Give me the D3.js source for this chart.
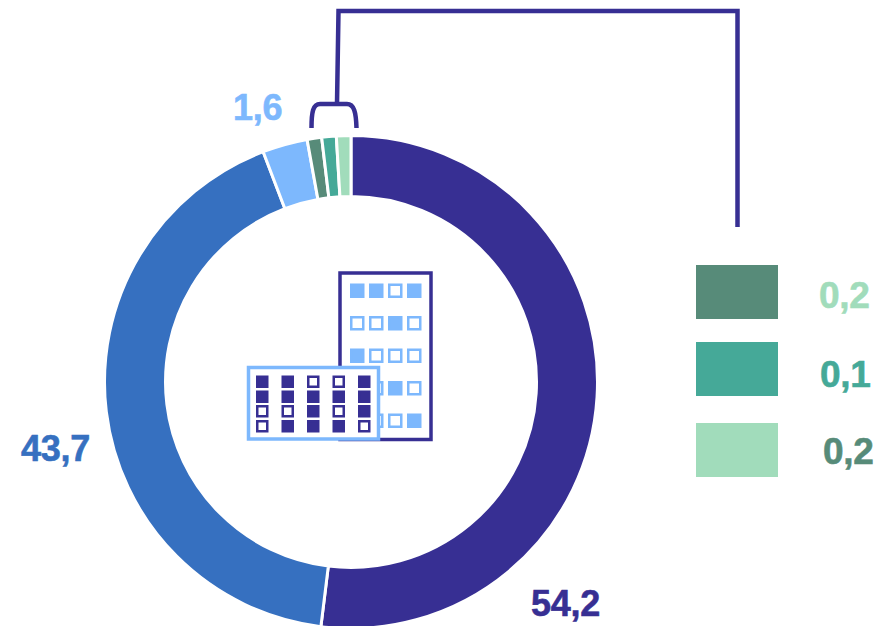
<!DOCTYPE html>
<html lang="en">
<head>
    <meta charset="UTF-8">
    <title>Donut chart</title>
    <script src="https://d3js.org/d3.v7.min.js"></script>
    <style>
        html, body { margin: 0; padding: 0; background: #fff; overflow: hidden; }
        text { font-family: "Liberation Sans", Arial, sans-serif; font-weight: 700; stroke-width: 0.6; }
    </style>
</head>
<body>
    <div id="chart"></div>
    <script>
        // data
        var categories = ["a", "b", "c", "d", "e", "f"];
        var valueLabels = ["54,2", "43,7", "1,6", "0,2", "0,1", "0,2"];
        // share of the ring as it is drawn in the picture (the arcs are not to scale with the labels)
        var ringShares = [51.95, 42.25, 2.95, 0.95, 0.95, 0.95];
        var sliceColors = ["#372f93", "#3670c0", "#7db8fd", "#578b79", "#45a998", "#a1dcbb"];

        var legendValues = ["0,2", "0,1", "0,2"];
        var legendSwatches = ["#578b79", "#45a998", "#a1dcbb"];
        var legendTextColors = ["#a1dcbb", "#45a998", "#578b79"];

        // icon windows, 1 = filled
        var towerWindows = [
            [1, 1, 0, 1],
            [0, 0, 1, 0],
            [1, 0, 0, 0],
            [0, 0, 1, 0],
            [0, 0, 0, 1]
        ];
        var lowWindows = [
            [1, 1, 0, 0, 1],
            [1, 1, 1, 1, 1],
            [0, 0, 1, 0, 1],
            [0, 1, 1, 1, 0]
        ];

        var width = 880, height = 626;
        var cx = 351, cy = 382, outer = 246.5, inner = 185.5;
        var dark = "#372f93", light = "#7db8fd";

        var svg = d3.select("#chart").append("svg")
            .attr("width", width)
            .attr("height", height)
            .style("display", "block");

        // ring
        var pie = d3.pie().sort(null).value(d => d.share);
        var arc = d3.arc().innerRadius(inner).outerRadius(outer);
        var slices = categories.map((c, i) => ({ name: c, share: ringShares[i], color: sliceColors[i] }));

        svg.append("g")
            .attr("transform", "translate(" + cx + "," + cy + ")")
            .selectAll("path")
            .data(pie(slices))
            .enter()
            .append("path")
            .attr("d", arc)
            .attr("fill", d => d.data.color)
            .attr("stroke", "#fff")
            .attr("stroke-width", 3);

        // slice labels
        var labelPos = [[531, 616], [21, 461], [233, 120]];
        svg.selectAll("text.slice")
            .data(labelPos)
            .enter()
            .append("text")
            .attr("class", "slice")
            .attr("x", d => d[0])
            .attr("y", d => d[1])
            .attr("font-size", 36)
            .attr("letter-spacing", -0.3)
            .attr("fill", (d, i) => sliceColors[i])
            .attr("stroke", (d, i) => sliceColors[i])
            .text((d, i) => valueLabels[i]);

        // connector and bracket
        var conn = d3.path();
        conn.moveTo(337, 104);
        conn.lineTo(338.5, 11);
        conn.lineTo(737.5, 11);
        conn.lineTo(737.5, 227);
        var bracket = d3.path();
        bracket.moveTo(311.5, 128);
        bracket.bezierCurveTo(311.5, 112, 313, 104, 320, 104);
        bracket.lineTo(347, 104);
        bracket.bezierCurveTo(354, 104, 356, 112, 356.5, 128);
        svg.selectAll("path.conn")
            .data([conn.toString(), bracket.toString()])
            .enter()
            .append("path")
            .attr("class", "conn")
            .attr("d", d => d)
            .attr("fill", "none")
            .attr("stroke", dark)
            .attr("stroke-width", 4.5);

        // legend
        var legendTop = [265, 342, 423];
        var legendBase = [308, 387, 464];
        var legendX = [819, 820, 823];
        legendValues.forEach(function(v, i) {
            svg.append("rect")
                .attr("x", 696)
                .attr("y", legendTop[i])
                .attr("width", 82)
                .attr("height", 54)
                .attr("fill", legendSwatches[i]);
            svg.append("text")
                .attr("x", legendX[i])
                .attr("y", legendBase[i])
                .attr("font-size", 37)
                .attr("letter-spacing", -0.3)
                .attr("fill", legendTextColors[i])
                .attr("stroke", legendTextColors[i])
                .text(v);
        });

        // icon
        function drawWindows(rows, xs, ys, size, color, sw) {
            rows.forEach(function(row, r) {
                row.forEach(function(on, c) {
                    svg.append("rect")
                        .attr("x", xs[c] + sw / 2)
                        .attr("y", ys[r] + sw / 2)
                        .attr("width", size - sw)
                        .attr("height", size - sw)
                        .attr("fill", on ? color : "#fff")
                        .attr("stroke", color)
                        .attr("stroke-width", sw);
                });
            });
        }

        svg.append("rect")
            .attr("x", 340)
            .attr("y", 273)
            .attr("width", 91)
            .attr("height", 166.5)
            .attr("fill", "#fff")
            .attr("stroke", dark)
            .attr("stroke-width", 3.5);
        drawWindows(towerWindows, [350, 369, 388, 407], [283.5, 316, 348.5, 381, 413.5], 14.5, light, 2.5);

        svg.append("rect")
            .attr("x", 248.5)
            .attr("y", 367.5)
            .attr("width", 130)
            .attr("height", 71.5)
            .attr("fill", "#fff")
            .attr("stroke", light)
            .attr("stroke-width", 3.5);
        drawWindows(lowWindows, [256, 281.5, 307, 332.5, 358], [375.5, 390.5, 405, 420], 12.5, dark, 2.5);
    </script>
</body>
</html>
